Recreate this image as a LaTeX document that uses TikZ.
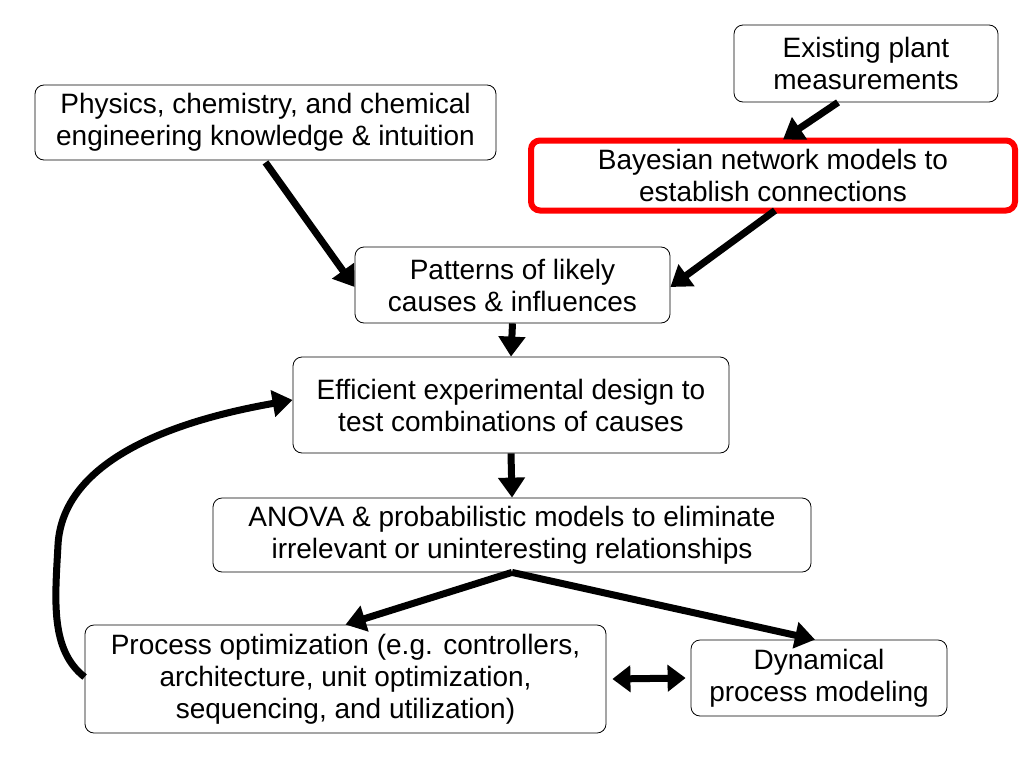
\documentclass[tikz,border=0pt]{standalone}
\usepackage{fontspec}
\setmainfont{Liberation Sans}
\usetikzlibrary{arrows.meta}
\begin{document}
\begin{tikzpicture}[x=1pt,y=-1pt,
  box/.style={draw,rounded corners=9pt,line width=0.8pt,align=center,font=\fontsize{28}{32}\selectfont,inner sep=0pt},
  arr/.style={line width=7pt,-{Triangle[length=20pt,width=26pt]}},
  darr/.style={line width=7pt,{Triangle[length=18pt,width=26pt]}-{Triangle[length=18pt,width=26pt]}}]
\useasboundingbox (0,0) rectangle (1024,768);
\node[box,minimum width=264pt,minimum height=77pt] (ex) at (866,63.5) {Existing plant\\measurements};
\node[box,minimum width=461pt,minimum height=75pt] (ph) at (265.5,122.5) {Physics, chemistry, and chemical\\engineering knowledge \& intuition};
\node[box,draw=red,line width=6pt,minimum width=484pt,minimum height=70pt] (ba) at (773,175.5) {Bayesian network models to\\establish connections};
\node[box,minimum width=315pt,minimum height=76pt] (pa) at (512.5,285) {Patterns of likely\\causes \& influences};
\node[box,minimum width=436pt,minimum height=96pt] (ef) at (511,405) {Efficient experimental design to\\test combinations of causes};
\node[box,minimum width=598pt,minimum height=74pt] (an) at (512,535) {ANOVA \& probabilistic models to eliminate\\irrelevant or uninteresting relationships};
\node[box,minimum width=521pt,minimum height=108pt] (po) at (345.5,679) {Process optimization (e.g. controllers,\\architecture, unit optimization,\\sequencing, and utilization)};
\node[box,minimum width=256pt,minimum height=76pt] (dy) at (819,678) {Dynamical\\process modeling};
\draw[arr] ([xshift=-28pt]ex.south) -- ([xshift=10pt,yshift=-2pt]ba.north);
\draw[arr] ([xshift=0pt,yshift=-2pt]ph.south) -- ([yshift=-2pt]pa.west);
\draw[arr] ([xshift=2pt,yshift=3pt]ba.south) -- ([yshift=-2pt]pa.east);
\draw[arr] (pa.south) -- (ef.north);
\draw[arr] (ef.south) -- (an.north);
\draw[arr] (an.south) -- (po.north);
\draw[arr] (an.south) -- ([xshift=-4pt]dy.north);
\draw[darr] ([xshift=6pt]po.east) -- ([xshift=-5pt]dy.west);
\draw[arr] ([yshift=2pt]po.west) .. controls (50,650) and (55,600) .. (58,545)
  .. controls (62,470) and (150,425) .. ([yshift=5pt]ef.west);
\end{tikzpicture}
\end{document}
